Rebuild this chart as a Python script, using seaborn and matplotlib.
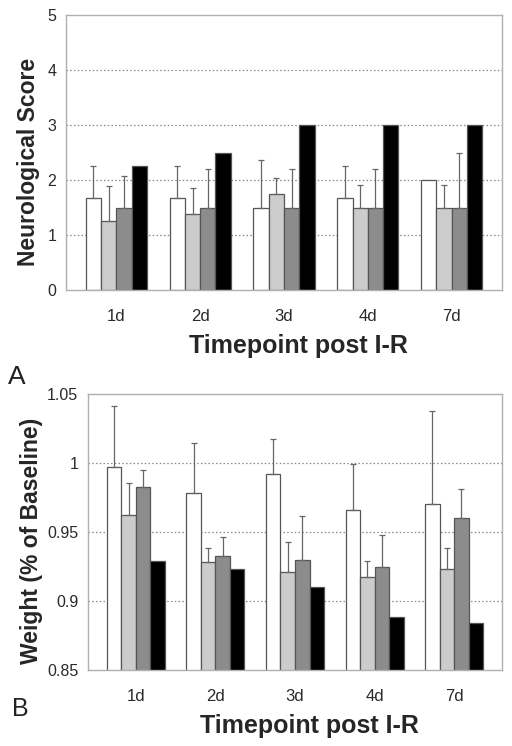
import numpy as np
import pandas as pd
import seaborn as sns
import matplotlib.pyplot as plt

timepoints = ["1d", "2d", "3d", "4d", "7d"]
groups = ["G1", "G2", "G3", "G4"]
bar_colors = ["#ffffff", "#cccccc", "#8c8c8c", "#000000"]

# panel A: neurological score (mean, upper error)
neuro_g1 = [1.67, 1.67, 1.5, 1.67, 2.0]
neuro_g2 = [1.25, 1.375, 1.75, 1.5, 1.5]
neuro_g3 = [1.5, 1.5, 1.5, 1.5, 1.5]
neuro_g4 = [2.25, 2.5, 3.0, 3.0, 3.0]
neuro_err_g1 = [0.58, 0.58, 0.86, 0.58, 0.0]
neuro_err_g2 = [0.65, 0.48, 0.29, 0.41, 0.41]
neuro_err_g3 = [0.58, 0.7, 0.7, 0.7, 1.0]
neuro_err_g4 = [0, 0, 0, 0, 0]

# panel B: weight (% of baseline)
weight_g1 = [0.997, 0.9785, 0.992, 0.966, 0.970]
weight_g2 = [0.962, 0.928, 0.921, 0.9175, 0.923]
weight_g3 = [0.9825, 0.9325, 0.9295, 0.925, 0.960]
weight_g4 = [0.929, 0.923, 0.9105, 0.8885, 0.884]
weight_err_g1 = [0.044, 0.036, 0.0256, 0.0335, 0.0675]
weight_err_g2 = [0.0235, 0.0101, 0.022, 0.0113, 0.0154]
weight_err_g3 = [0.0122, 0.0139, 0.032, 0.0227, 0.0215]
weight_err_g4 = [0, 0, 0, 0, 0]


def long_table(vals, errs):
    rows = []
    for g, v, e in zip(groups, vals, errs):
        for t, vi, ei in zip(timepoints, v, e):
            rows.append({"time": t, "group": g, "value": vi, "err": ei})
    return pd.DataFrame(rows)


def draw_panel(ax, df, ylim, yticks, yticklabels, ylabel, xlab_pos, ylab_pos):
    sns.barplot(data=df, x="time", y="value", hue="group", palette=bar_colors,
                order=timepoints, hue_order=groups, errorbar=None, width=0.73,
                edgecolor="#555555", linewidth=0.9, legend=False, ax=ax, zorder=2)
    ax.set_ylim(*ylim)
    # upper error bars placed on the drawn bars
    for bar, (_, r) in zip(ax.patches, df.iterrows()):
        if r["err"] > 0:
            xc = bar.get_x() + bar.get_width() / 2
            ax.errorbar(xc, r["value"], yerr=[[0], [r["err"]]], fmt="none",
                        ecolor="#666666", elinewidth=0.9, capsize=2, capthick=0.9,
                        zorder=3)
    ax.set_yticks(yticks)
    ax.set_yticklabels(yticklabels)
    for y in yticks[1:-1]:
        ax.axhline(y, color="#888888", linestyle=(0, (1.2, 1.8)), linewidth=0.9, zorder=1)
    for s in ax.spines.values():
        s.set_color("#b0b0b0")
        s.set_linewidth(1.0)
    ax.tick_params(axis="y", length=3, color="#b0b0b0", labelsize=11.5, labelcolor="#2a2a2a", pad=4)
    ax.tick_params(axis="x", length=0, labelsize=12, labelcolor="#2a2a2a", pad=14)
    ax.set_ylabel(ylabel, fontsize=16.5, fontweight="bold")
    ax.set_xlabel("Timepoint post I-R", fontsize=18, fontweight="bold")
    ax.xaxis.set_label_coords(*xlab_pos)
    ax.yaxis.set_label_coords(*ylab_pos)


sns.set_style("white")
plt.rcParams["font.family"] = ["Liberation Sans", "DejaVu Sans"]

fig = plt.figure(figsize=(5.12, 7.46), dpi=100)
ax1 = fig.add_axes([66 / 512, 1 - 290 / 746, 436 / 512, 275 / 746])
ax2 = fig.add_axes([88 / 512, 1 - 670 / 746, 414 / 512, 276 / 746])

df_a = long_table([neuro_g1, neuro_g2, neuro_g3, neuro_g4],
                  [neuro_err_g1, neuro_err_g2, neuro_err_g3, neuro_err_g4])
df_b = long_table([weight_g1, weight_g2, weight_g3, weight_g4],
                  [weight_err_g1, weight_err_g2, weight_err_g3, weight_err_g4])

draw_panel(ax1, df_a, (0, 5), [0, 1, 2, 3, 4, 5], ["0", "1", "2", "3", "4", "5"],
           "Neurological Score", (0.534, -0.16), (-0.059, 0.464))
draw_panel(ax2, df_b, (0.85, 1.05), [0.85, 0.9, 0.95, 1.0, 1.05],
           ["0.85", "0.9", "0.95", "1", "1.05"], "Weight (% of Baseline)",
           (0.534, -0.16), (-0.108, 0.467))

fig.text(8 / 512, 1 - 384 / 746, "A", fontsize=19, color="#222222")
fig.text(12 / 512, 1 - 716 / 746, "B", fontsize=18, color="#222222")

fig.savefig("out.png", dpi=100)
